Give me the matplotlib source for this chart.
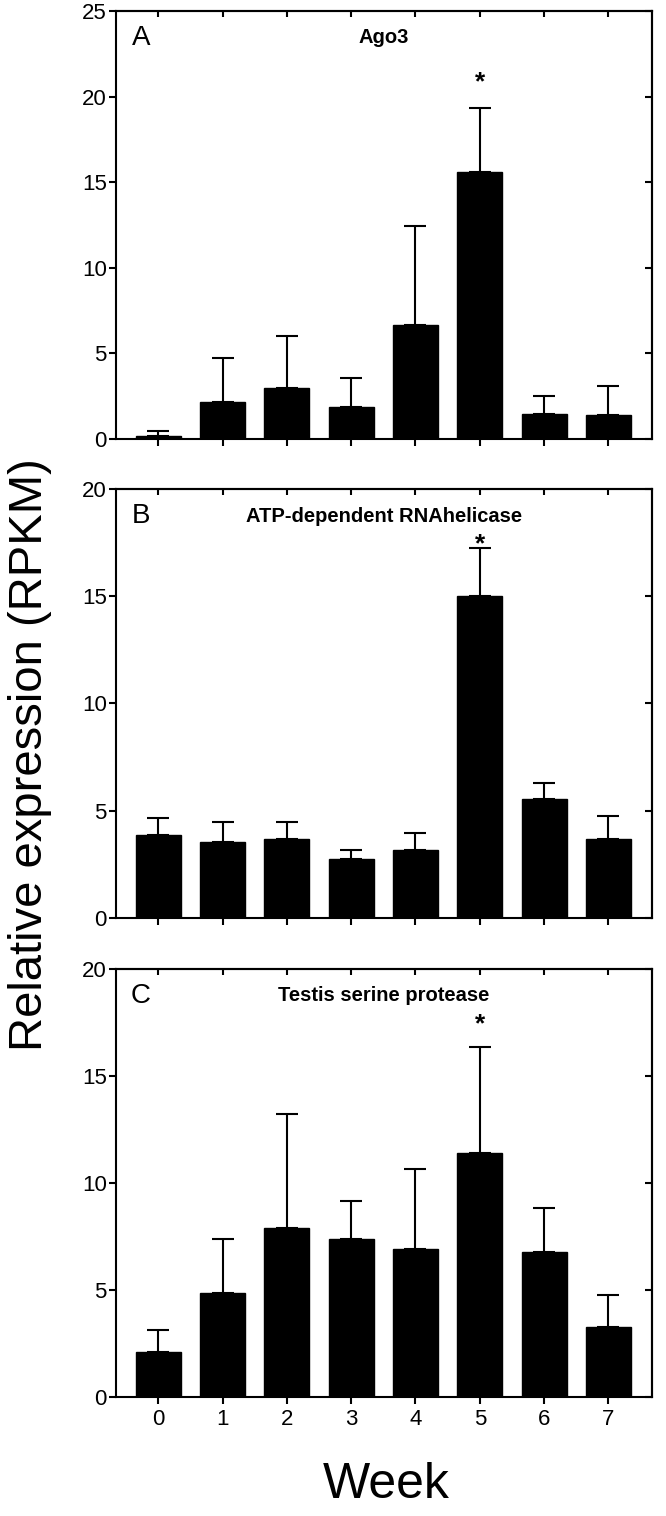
import matplotlib
matplotlib.use('Agg')
import matplotlib.pyplot as plt
import numpy as np

plt.rcParams['font.family'] = ['Liberation Sans', 'DejaVu Sans']

# ---------------- data ----------------
weeks = [0, 1, 2, 3, 4, 5, 6, 7]
week_labels = ['0', '1', '2', '3', '4', '5', '6', '7']

ago3_mean = [0.15, 2.16, 3.00, 1.89, 6.66, 15.58, 1.46, 1.42]
ago3_err = [0.32, 2.55, 3.02, 1.66, 5.78, 3.77, 1.07, 1.66]

helicase_mean = [3.84, 3.52, 3.69, 2.72, 3.16, 15.01, 5.54, 3.69]
helicase_err = [0.80, 0.93, 0.79, 0.42, 0.78, 2.23, 0.73, 1.07]

protease_mean = [2.09, 4.85, 7.90, 7.39, 6.92, 11.41, 6.78, 3.26]
protease_err = [1.01, 2.54, 5.33, 1.74, 3.74, 4.95, 2.06, 1.48]

panel_letters = ['A', 'B', 'C']
panel_titles = ['Ago3', 'ATP-dependent RNAhelicase', 'Testis serine protease']
y_max = [25, 20, 20]
star_week = [5, 5, 5]
star_level = [21.3, 17.8, 17.8]

# ---------------- figure ----------------
W, H = 666, 1516
fig = plt.figure(figsize=(W / 100, H / 100), dpi=100)

left_px, right_px = 115.7, 651.7
panels_px = [(11, 439), (489, 917.7), (969, 1396.7)]

means = [ago3_mean, helicase_mean, protease_mean]
errs = [ago3_err, helicase_err, protease_err]

for i in range(3):
    top, bot = panels_px[i]
    ax = fig.add_axes([left_px / W, 1 - bot / H, (right_px - left_px) / W, (bot - top) / H])
    x = np.array(weeks, dtype=float)
    m = np.array(means[i])
    e = np.array(errs[i])
    ax.errorbar(x, m, yerr=[np.zeros_like(e), e], fmt='none', ecolor='black',
                elinewidth=1.5, capsize=8, capthick=1.5, zorder=2)
    ax.bar(x, m, width=0.70, color='black', edgecolor='black', linewidth=1.0, zorder=3)

    ax.set_xlim(-0.662, 7.673)
    ax.set_ylim(0, y_max[i])
    ax.set_yticks(np.arange(0, y_max[i] + 1, 5))
    ax.set_xticks(weeks)
    ax.set_xticklabels(week_labels)

    for s in ax.spines.values():
        s.set_linewidth(1.5)
    ax.tick_params(axis='both', direction='out', length=5, width=1.5,
                   labelsize=16, top=False, right=False, pad=1.5)
    ax.tick_params(axis='x', pad=4)
    if i < 2:
        ax.tick_params(axis='x', labelbottom=False)

    # inward ticks on top and right
    secx = ax.secondary_xaxis('top')
    secx.set_xticks(weeks)
    secx.tick_params(direction='in', length=4.5, width=1.5, labeltop=False)
    secx.spines['top'].set_linewidth(1.5)
    secy = ax.secondary_yaxis('right')
    secy.set_yticks(np.arange(0, y_max[i] + 1, 5))
    secy.tick_params(direction='in', length=5, width=1.5, labelright=False)
    secy.spines['right'].set_linewidth(1.5)

    ax.text(0.047, 0.937, panel_letters[i], transform=ax.transAxes,
            fontsize=20, ha='center', va='center')
    ax.text(0.5, 0.937, panel_titles[i], transform=ax.transAxes,
            fontsize=14.5, fontweight='bold', ha='center', va='center')
    ax.annotate('*', xy=(star_week[i], star_level[i]), xytext=(0, -6),
                textcoords='offset points', fontsize=19, fontweight='bold',
                ha='center', va='center')

fig.text(30 / W, 1 - 755 / H, 'Relative expression (RPKM)', rotation=90,
         fontsize=34, ha='center', va='center')
fig.text(386 / W, 1 - 1485 / H, 'Week', fontsize=36, ha='center', va='center')

fig.savefig('out.png', dpi=100)
